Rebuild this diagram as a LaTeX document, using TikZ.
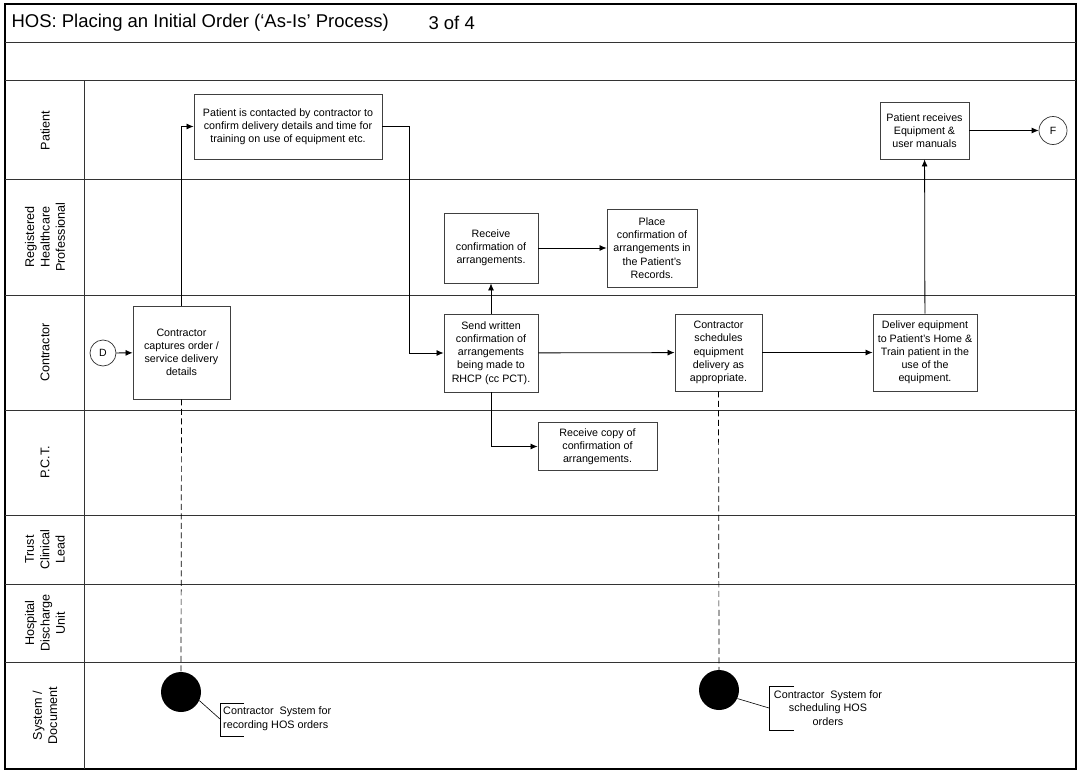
\documentclass[tikz,border=0pt]{standalone}
\usepackage{fontspec}
\setmainfont{Liberation Sans}
\usetikzlibrary{positioning}
\usetikzlibrary{arrows.meta}

\begin{document}
\begin{tikzpicture}[x=1pt, y=-1pt,
	lane/.style={draw=black!80, line width=1pt},
	task/.style={draw=black!75, line width=0.9pt, fill=white, align=center, inner sep=1pt,
		font=\fontsize{10.7}{13.2}\selectfont},
	term/.style={draw=black!80, line width=0.7pt, circle, fill=white, inner sep=0pt,
		minimum size=26pt, font=\fontsize{10.5}{12}\selectfont},
	store/.style={circle, fill=black, inner sep=0pt, minimum size=40pt},
	link/.style={draw=black, line width=0.8pt, -{Latex[length=7pt, width=6pt]}},
	sysline/.style={draw=black, line width=0.7pt, dash pattern=on 6pt off 3.5pt},
	note/.style={font=\fontsize{10.8}{13.8}\selectfont, inner sep=0pt},
	lanelabel/.style={rotate=90, align=center, font=\fontsize{12.6}{15.3}\selectfont}
	]
				\useasboundingbox (0,0) rectangle (1079,776);
				% frame and swim lanes
				\draw[line width=1.1pt] (5,4) rectangle (1076,769);
				\foreach \y in {43,81,179,295,410,515,584,662}
					\draw[lane] (5,\y) -- (1076,\y);
				\draw[lane] (84,81) -- (84,769);
				\node[anchor=west, font=\fontsize{18.5}{22}\selectfont] (title) at (8,23) {HOS: Placing an Initial Order (‘As-Is’ Process)};
				\node[anchor=west, font=\fontsize{18.5}{22}\selectfont] (page) at (425,23) {3 of 4};
				\node[lanelabel] (patient) at (45,130.5) {Patient};
				\node[lanelabel] (rhcp) at (45,237) {Registered\\Healthcare\\Professional};
				\node[lanelabel] (contractor) at (45,352.5) {Contractor};
				\node[lanelabel] (pct) at (45,462.5) {P.C.T.};
				\node[lanelabel] (trust) at (45,549.5) {Trust\\Clinical\\Lead};
				\node[lanelabel] (hdu) at (45,623) {Hospital\\Discharge\\Unit};
				\node[lanelabel] (sysdoc) at (45,715.5) {System /\\Document};

				% process steps
				\node[term] (D) at (103,353) {D};
				\node[task, minimum width=97pt, minimum height=93pt] (capture) at (181.5,352.5) {Contractor\\captures order /\\service delivery\\details};
				\node[task, minimum width=188pt, minimum height=65pt] (contact) at (288,126.5) {Patient is contacted by contractor to\\confirm delivery details and time for\\training on use of equipment etc.};
				\node[task, minimum width=94pt, minimum height=78pt] (send) at (491,353) {Send written\\confirmation of\\arrangements\\being made to\\RHCP (cc PCT).};
				\node[task, minimum width=94pt, minimum height=70pt] (recv) at (491,248) {Receive\\confirmation of\\arrangements.};
				\node[task, minimum width=90pt, minimum height=78pt] (place) at (652,248) {Place\\confirmation of\\arrangements in\\the Patient's\\Records.};
				\node[task, minimum width=119pt, minimum height=48pt] (copy) at (597.5,446.5) {Receive copy of\\confirmation of\\arrangements.};
				\node[task, minimum width=87pt, minimum height=77pt] (sched) at (718.5,352.5) {Contractor\\schedules\\equipment\\delivery as\\appropriate.};
				\node[task, minimum width=104pt, minimum height=77pt] (deliver) at (925,352.5) {Deliver equipment\\to Patient's Home \&\\Train patient in the\\use of the\\equipment.};
				\node[task, minimum width=89pt, minimum height=57pt] (receives) at (924.5,130.5) {Patient receives\\Equipment \&\\user manuals};
				\node[term, minimum size=28pt] (F) at (1053,130.5) {F};
				\node[shape=coordinate] (bend) at (409,126.5) {};

				\draw[link] (D) -- (capture);
				\draw[link] (capture.north) |- (contact.west);
				\draw[link] (contact.east) -- (bend) |- (send.west);
				\draw[link] (send) -- (recv);
				\draw[link] (recv) -- (place);
				\draw[link] (send.south) |- (copy.west);
				\draw[link] (send) -- (sched);
				\draw[link] (sched) -- (deliver);
				\draw[link] (deliver) -- (receives);
				\draw[link] (receives) -- (F);

				% systems
				\node[store] (sys1) at (181,692) {};
				\node[store] (sys2) at (719,690) {};
				\draw[sysline] (capture.south) -- (sys1.north);
				\draw[sysline] (sched.south) -- (sys2.north);
				\node[shape=coordinate] (b1) at (220,719) {};
				\node[shape=coordinate] (b2) at (769,708) {};
				\draw[line width=0.6pt] (sys1.-25) -- (b1);
				\draw[line width=0.6pt] (244,703) -- (220,703) -- (220,736) -- (244,736);
				\draw[line width=0.6pt] (sys2.-25) -- (b2);
				\draw[line width=0.6pt] (794,686) -- (769,686) -- (769,730) -- (794,730);
				\node[note, anchor=west, align=left] (n1) at (223,719) {Contractor\ \ System for\\recording HOS orders};
				\node[note, align=center] (n2) at (828,708) {Contractor\ \ System for\\scheduling HOS\\orders};
			\end{tikzpicture}
\end{document}
